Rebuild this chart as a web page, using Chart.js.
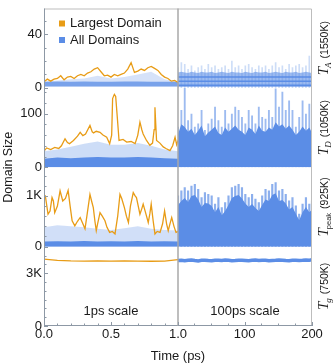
<!DOCTYPE html>
<html>
<head>
<meta charset="utf-8">
<title>Domain size vs time</title>
<script src="https://cdn.jsdelivr.net/npm/chart.js@4.4.1/dist/chart.umd.min.js"></script>
<style>
  html, body { margin: 0; padding: 0; background: #fff; }
</style>
</head>
<body>
<canvas id="domainChart" width="334" height="364"></canvas>
<script>
/* ====== data : 1ps scale (left half, time in ps) ====== */
const tLargestA = [0, 0.025, 0.05, 0.075, 0.1, 0.125, 0.15, 0.175, 0.2, 0.225, 0.25, 0.275, 0.3, 0.325, 0.35, 0.375, 0.4, 0.425, 0.45, 0.475, 0.5, 0.525, 0.55, 0.575, 0.6, 0.625, 0.65, 0.675, 0.7, 0.725, 0.75, 0.775, 0.8, 0.825, 0.85, 0.875, 0.9, 0.925, 0.95, 0.975, 1.0];
const largestA = [4.5, 6.5, 5, 6.5, 7, 9, 6, 8, 8.5, 7, 9, 10, 9, 11, 12, 14, 15, 12, 9, 9.5, 8, 10, 9, 10, 11, 14, 18.8, 11.5, 12.5, 14, 13, 15, 16, 14.5, 13, 10, 8, 7, 5, 5.5, 4];

const tLargestD = [0, 0.02, 0.05, 0.08, 0.11, 0.13, 0.157, 0.175, 0.19, 0.22, 0.25, 0.27, 0.29, 0.31, 0.343, 0.36, 0.37, 0.39, 0.418, 0.44, 0.468, 0.49, 0.505, 0.512, 0.525, 0.535, 0.547, 0.56, 0.59, 0.617, 0.65, 0.68, 0.70, 0.716, 0.73, 0.74, 0.765, 0.79, 0.81, 0.822, 0.828, 0.834, 0.84, 0.865, 0.89, 0.91, 0.94, 0.96, 0.978, 0.99, 1.0];
const largestD = [30, 36, 33, 37, 35, 40, 53, 46, 44, 50, 58, 65, 59, 62, 78, 66, 64, 67, 65, 60, 56, 44, 60, 128, 136, 132, 93, 50, 52, 47, 48, 44, 60, 84, 70, 62, 50, 41, 45, 70, 112, 80, 50, 45, 38, 35, 31, 40, 56, 42, 50];

const tLargestP = [0, 0.01, 0.03, 0.045, 0.06, 0.07, 0.08, 0.1, 0.12, 0.14, 0.16, 0.18, 0.195, 0.21, 0.23, 0.25, 0.27, 0.29, 0.306, 0.32, 0.343, 0.355, 0.368, 0.38, 0.39, 0.40, 0.418, 0.435, 0.455, 0.47, 0.49, 0.51, 0.53, 0.55, 0.567, 0.58, 0.6, 0.615, 0.63, 0.645, 0.666, 0.68, 0.69, 0.705, 0.716, 0.73, 0.74, 0.76, 0.778, 0.79, 0.80, 0.815, 0.828, 0.845, 0.866, 0.885, 0.90, 0.915, 0.927, 0.94, 0.953, 0.97, 0.985, 1.0];
const largestP = [1000, 1000, 640, 700, 967, 900, 670, 800, 1100, 900, 950, 1110, 800, 510, 410, 500, 575, 450, 350, 600, 1030, 900, 770, 500, 314, 450, 670, 600, 510, 380, 280, 300, 250, 600, 1030, 950, 770, 600, 475, 800, 1065, 1000, 967, 780, 640, 750, 837, 650, 475, 650, 837, 500, 250, 300, 280, 450, 705, 450, 314, 450, 575, 400, 280, 300];

const tCoarse = [0, 0.1, 0.2, 0.3, 0.4, 0.5, 0.6, 0.7, 0.8, 0.9, 1.0];
const largestG = [3800, 3730, 3700, 3690, 3700, 3690, 3700, 3690, 3680, 3690, 3770];

// all domains, 1ps scale: dense band and the sparser cloud above it
const bandA = [4.5, 4.7, 4.5, 4.8, 4.6, 4.5, 4.7, 4.8, 4.6, 4.5, 4.5];
const hazeA = [4.5, 5.5, 6.5, 7, 9, 7, 8, 10, 12, 6.5, 4.5];
const bandD = [16, 18, 17, 18, 19, 18, 18, 19, 18, 17, 16];
const hazeD = [30, 33, 38, 44, 48, 42, 42, 45, 40, 33, 30];
const bandP = [100, 105, 100, 110, 100, 105, 100, 110, 100, 105, 100];
const hazeP = [380, 420, 400, 380, 350, 330, 360, 400, 350, 330, 320];

/* ====== data : 100ps scale (right half) ====== */
const tLong = [1, 6, 11, 16, 21, 26, 31, 36, 41, 46, 51, 56, 61, 66, 71, 76, 81, 86, 91, 96, 101, 106, 111, 116, 121, 126, 131, 136, 141, 146, 151, 156, 161, 166, 171, 176, 181, 186, 191, 196, 200];
const coreA = [11.5, 12, 11.5, 11, 12, 11.5, 11, 12, 11.5, 11.5, 12, 11, 11.5, 12, 11.5, 11, 12, 11.5, 11.5, 11, 12, 11.5, 11, 12, 11.5, 11.5, 12, 11, 11.5, 12, 11.5, 11, 12, 11.5, 11.5, 12, 11, 11.5, 12, 11.5, 11];
const spikeA = [15.1, 18.8, 17.5, 13.8, 16.3, 12.6, 15.1, 16.3, 13.8, 17.5, 15.1, 16.3, 13.8, 15.1, 16.3, 13.8, 20, 15.1, 16.3, 13.8, 16.3, 17.5, 15.1, 13.8, 16.3, 15.1, 16.3, 13.8, 16.3, 18.8, 15.1, 16.3, 13.8, 17.5, 15.1, 16.3, 17.5, 15.1, 16.3, 23.7, 13.8];
const levelsA = [2, 5, 8];
const coreD = [62, 80, 75, 66, 72, 60, 68, 78, 58, 65, 70, 76, 64, 60, 74, 66, 72, 78, 70, 66, 60, 74, 70, 62, 78, 68, 66, 74, 70, 84, 76, 80, 72, 78, 70, 60, 66, 76, 68, 74, 64];
const spikeD = [75, 106, 148, 87, 99, 75, 81, 106, 69, 81, 90, 112, 87, 75, 106, 81, 99, 112, 106, 93, 81, 106, 96, 81, 112, 93, 90, 106, 93, 146, 112, 140, 106, 124, 106, 75, 93, 124, 99, 118, 93];
const coreP = [820, 900, 960, 880, 1000, 1020, 930, 780, 860, 850, 800, 680, 780, 620, 700, 820, 960, 1000, 1020, 950, 850, 780, 840, 760, 700, 820, 930, 900, 1020, 1050, 900, 920, 850, 730, 780, 650, 520, 680, 780, 680, 730];
const spikeP = [1000, 1098, 1163, 1098, 1196, 1229, 1131, 967, 1065, 1033, 1000, 837, 967, 771, 869, 1000, 1163, 1196, 1229, 1163, 1033, 967, 1033, 935, 869, 1000, 1131, 1098, 1229, 1261, 1098, 1131, 1033, 902, 967, 804, 641, 837, 967, 837, 902];
const allG = [3720, 3740, 3710, 3730, 3750, 3720, 3700, 3730, 3740, 3720, 3710, 3740, 3730, 3720, 3750, 3730, 3710, 3720, 3740, 3730, 3720, 3710, 3730, 3750, 3720, 3730, 3740, 3710, 3720, 3730, 3750, 3740, 3720, 3710, 3730, 3740, 3720, 3730, 3750, 3740, 3760];

/* ====== axes ====== */
const xTicksL = [0, 0.1, 0.2, 0.3, 0.4, 0.5, 0.6, 0.7, 0.8, 0.9, 1.0];
const xLabelsL = { 0: '0.0', 0.5: '0.5' };
const xTicksR = [1, 25, 50, 75, 100, 125, 150, 175, 200];
const xLabelsR = { 1: '1.0', 100: '100', 200: '200' };
const yTicksA = [0, 10, 20, 30, 40, 50];
const yLabelsA = { 0: '0', 40: '40' };
const yTicksD = [0, 20, 40, 60, 80, 100, 120, 140];
const yLabelsD = { 0: '0', 100: '100' };
const yTicksP = [0, 200, 400, 600, 800, 1000, 1200, 1400];
const yLabelsP = { 0: '0', 1000: '1K' };
const yTicksG = [0, 500, 1000, 1500, 2000, 2500, 3000, 3500, 4000];
const yLabelsG = { 0: '0', 3000: '3K' };

const panels = [
  { id: 'yA', sub: 'A', temp: '(1550K)' },
  { id: 'yD', sub: 'D', temp: '(1050K)' },
  { id: 'yP', sub: 'peak', temp: '(925K)' },
  { id: 'yG', sub: 'g', temp: '(750K)' }
];

const ORANGE = '#e89c16';
const BLUE = '#5b8de6';
const TEXT = '#1a1a1a';

Chart.defaults.font.family = "'Liberation Sans', Arial, sans-serif";
Chart.defaults.font.size = 13;
Chart.defaults.color = TEXT;

const pts = (xs, ys) => xs.map((x, i) => ({ x: x, y: ys[i] }));

function orange(xs, ys, yId, xId) {
  return { type: 'line', label: 'Largest Domain', data: pts(xs, ys), xAxisID: xId || 'xL', yAxisID: yId,
    borderColor: ORANGE, borderWidth: 1.3, pointRadius: 0, tension: 0, fill: false, order: 0 };
}
function area(xs, ys, yId, xId, color, base, order) {
  return { type: 'line', label: 'All Domains', data: pts(xs, ys), xAxisID: xId, yAxisID: yId,
    borderWidth: 0, borderColor: color, backgroundColor: color, pointRadius: 0, tension: 0,
    fill: { value: base }, order: order };
}
function spikes(ys, yId, color, thick) {
  return { type: 'bar', label: 'All Domains', data: pts(tLong, ys), xAxisID: 'xR', yAxisID: yId,
    backgroundColor: color, barThickness: thick, grouped: false, order: 4 };
}

function yAxis(weight, max, ticks, labels) {
  return {
    type: 'linear', position: 'left', stack: 'size', stackWeight: 1, weight: weight,
    min: 0, max: max,
    grid: { display: false, drawTicks: false },
    border: { display: false },
    afterBuildTicks: s => { s.ticks = ticks.map(v => ({ value: v })); },
    afterFit: s => { s.width = 44; },
    ticks: { autoSkip: false, padding: 2, font: { size: 13, lineHeight: 1 }, callback: v => labels[v] ?? '' }
  };
}
function xAxis(weight, min, max, ticks, labels) {
  return {
    type: 'linear', position: 'bottom', stack: 'time', stackWeight: 1, weight: weight,
    min: min, max: max, offset: false,
    grid: { display: false, drawTicks: false, offset: false },
    border: { display: false },
    afterBuildTicks: s => { s.ticks = ticks.map(v => ({ value: v })); },
    afterFit: s => { s.height = 38; },
    ticks: { autoSkip: false, maxRotation: 0, padding: 2, font: { size: 13, lineHeight: 1 }, callback: v => labels[v] ?? '' }
  };
}

// ---- frame, divider, inward ticks, in-plot texts, legend, titles ----
const decorPlugin = {
  id: 'decor',
  afterDatasetsDraw(chart) {
    const { ctx, chartArea: a, scales } = chart;
    ctx.save();
    ctx.lineWidth = 1;
    ctx.strokeStyle = '#bdbdbd';
    ctx.beginPath();
    ctx.moveTo(a.left, a.top + 0.5); ctx.lineTo(a.right - 0.5, a.top + 0.5); ctx.lineTo(a.right - 0.5, a.bottom);
    ctx.stroke();
    ctx.strokeStyle = '#8d98a5';
    ctx.beginPath();
    ctx.moveTo(a.left + 0.5, a.top); ctx.lineTo(a.left + 0.5, a.bottom - 0.5); ctx.lineTo(a.right, a.bottom - 0.5);
    ctx.stroke();

    // divider between the two time scales
    const xd = scales.xR.getPixelForValue(1);
    ctx.strokeStyle = '#a9a9a9';
    ctx.lineWidth = 1.5;
    ctx.beginPath(); ctx.moveTo(xd, a.top); ctx.lineTo(xd, a.bottom); ctx.stroke();

    // tick marks pointing into the plot
    ctx.lineWidth = 1;
    ctx.strokeStyle = '#8d98a5';
    panels.forEach(p => {
      const s = scales[p.id];
      s.ticks.forEach(t => {
        const y = Math.round(s.getPixelForValue(t.value)) + 0.5;
        const len = s.options.ticks.callback(t.value) ? 4 : 2.5;
        ctx.beginPath(); ctx.moveTo(a.left, y); ctx.lineTo(a.left + len, y); ctx.stroke();
      });
    });
    ['xL', 'xR'].forEach(id => {
      const s = scales[id];
      s.ticks.forEach(t => {
        const x = Math.round(s.getPixelForValue(t.value)) + 0.5;
        const len = s.options.ticks.callback(t.value) ? 4 : 2.5;
        ctx.beginPath(); ctx.moveTo(x, a.bottom); ctx.lineTo(x, a.bottom - len); ctx.stroke();
      });
    });

    // scale captions
    ctx.fillStyle = TEXT;
    ctx.font = "13px 'Liberation Sans', Arial, sans-serif";
    ctx.textAlign = 'center';
    ctx.textBaseline = 'middle';
    ctx.fillText('1ps scale', (scales.xL.left + scales.xL.right) / 2, a.bottom - 15);
    ctx.fillText('100ps scale', (scales.xR.left + scales.xR.right) / 2, a.bottom - 15);

    // legend
    ctx.textAlign = 'left';
    const lx = a.left + 15, ly = a.top + 15;
    [['Largest Domain', ORANGE], ['All Domains', BLUE]].forEach((row, i) => {
      ctx.fillStyle = row[1];
      ctx.fillRect(lx, ly + i * 16.5 - 3, 6, 6);
      ctx.fillStyle = TEXT;
      ctx.fillText(row[0], lx + 11, ly + i * 16.5);
    });
    ctx.restore();
  },
  afterDraw(chart) {
    const { ctx, chartArea: a, scales } = chart;
    ctx.save();
    ctx.fillStyle = TEXT;
    ctx.textAlign = 'center';
    ctx.textBaseline = 'middle';
    ctx.font = "13px 'Liberation Sans', Arial, sans-serif";
    ctx.fillText('Time (ps)', (a.left + a.right) / 2, 356);
    ctx.translate(8.5, (a.top + a.bottom) / 2);
    ctx.rotate(-Math.PI / 2);
    ctx.font = "12.5px 'Liberation Sans', Arial, sans-serif";
    ctx.fillText('Domain Size', 0, 0);
    ctx.restore();

    panels.forEach(p => {
      const s = scales[p.id];
      drawTempLabel(ctx, 328, (s.top + s.bottom) / 2, p.sub, p.temp);
    });
  }
};

function drawTempLabel(ctx, x, y, sub, temp) {
  ctx.save();
  ctx.translate(x, y);
  ctx.rotate(-Math.PI / 2);
  ctx.fillStyle = TEXT;
  ctx.textAlign = 'left';
  ctx.textBaseline = 'alphabetic';
  const fT = "italic 15px 'Liberation Serif', serif";
  const fSub = sub === 'peak' ? "7.5px 'Liberation Sans', sans-serif" : "italic 9px 'Liberation Serif', serif";
  const fTemp = "10.5px 'Liberation Sans', sans-serif";
  ctx.font = fT; const wT = ctx.measureText('T').width;
  ctx.font = fSub; const wS = ctx.measureText(sub).width;
  ctx.font = fTemp; const wP = ctx.measureText(temp).width;
  let cx = -(wT + wS + 3 + wP) / 2;
  ctx.font = fT; ctx.fillText('T', cx, 0); cx += wT - 1;
  ctx.font = fSub; ctx.fillText(sub, cx, 3); cx += wS + 4;
  ctx.font = fTemp; ctx.fillText(temp, cx, 0);
  ctx.restore();
}

const datasets = [
  orange(tLargestA, largestA, 'yA'),
  orange(tLargestD, largestD, 'yD'),
  orange(tLargestP, largestP, 'yP'),
  orange(tCoarse, largestG, 'yG'),
  { type: 'line', label: 'All Domains', data: pts(tLong, allG), xAxisID: 'xR', yAxisID: 'yG',
    borderColor: BLUE, borderWidth: 3.5, pointRadius: 0, tension: 0, fill: false, order: 1 },
  // 1ps scale, all domains
  area(tCoarse, bandA, 'yA', 'xL', 'rgba(91,141,230,0.75)', 1, 3),
  area(tCoarse, hazeA, 'yA', 'xL', 'rgba(91,141,230,0.25)', 1, 4),
  area(tCoarse, bandD, 'yD', 'xL', BLUE, 0, 3),
  area(tCoarse, hazeD, 'yD', 'xL', 'rgba(91,141,230,0.3)', 0, 4),
  area(tCoarse, bandP, 'yP', 'xL', BLUE, 0, 3),
  area(tCoarse, hazeP, 'yP', 'xL', 'rgba(91,141,230,0.28)', 0, 4),
  // 100ps scale, all domains
  area(tLong, coreA, 'yA', 'xR', 'rgba(91,141,230,0.6)', 0.7, 3),
  area(tLong, coreD, 'yD', 'xR', BLUE, 0, 3),
  area(tLong, coreP, 'yP', 'xR', BLUE, 0, 3),
  spikes(spikeA, 'yA', 'rgba(91,141,230,0.3)', 1),
  spikes(spikeD, 'yD', 'rgba(91,141,230,0.6)', 1.2),
  spikes(spikeP, 'yP', 'rgba(91,141,230,0.7)', 1.5)
];
levelsA.forEach(v => datasets.push({
  type: 'line', label: 'All Domains', data: [{ x: 1, y: v }, { x: 200, y: v }], xAxisID: 'xR', yAxisID: 'yA',
  borderColor: BLUE, borderWidth: 1.5, pointRadius: 0, fill: false, order: 2
}));

new Chart(document.getElementById('domainChart'), {
  type: 'line',
  data: { datasets: datasets },
  plugins: [decorPlugin],
  options: {
    responsive: false,
    animation: false,
    layout: { padding: { top: 7, right: 22, left: 0, bottom: 0 } },
    plugins: { legend: { display: false }, tooltip: { enabled: false } },
    scales: {
      xL: xAxis(1, 0, 1, xTicksL, xLabelsL),
      xR: xAxis(2, 1, 200, xTicksR, xLabelsR),
      yA: yAxis(4, 59, yTicksA, yLabelsA),
      yD: yAxis(3, 148, yTicksD, yLabelsD),
      yP: yAxis(2, 1565, yTicksP, yLabelsP),
      yG: yAxis(1, 4510, yTicksG, yLabelsG)
    }
  }
});
</script>
</body>
</html>
